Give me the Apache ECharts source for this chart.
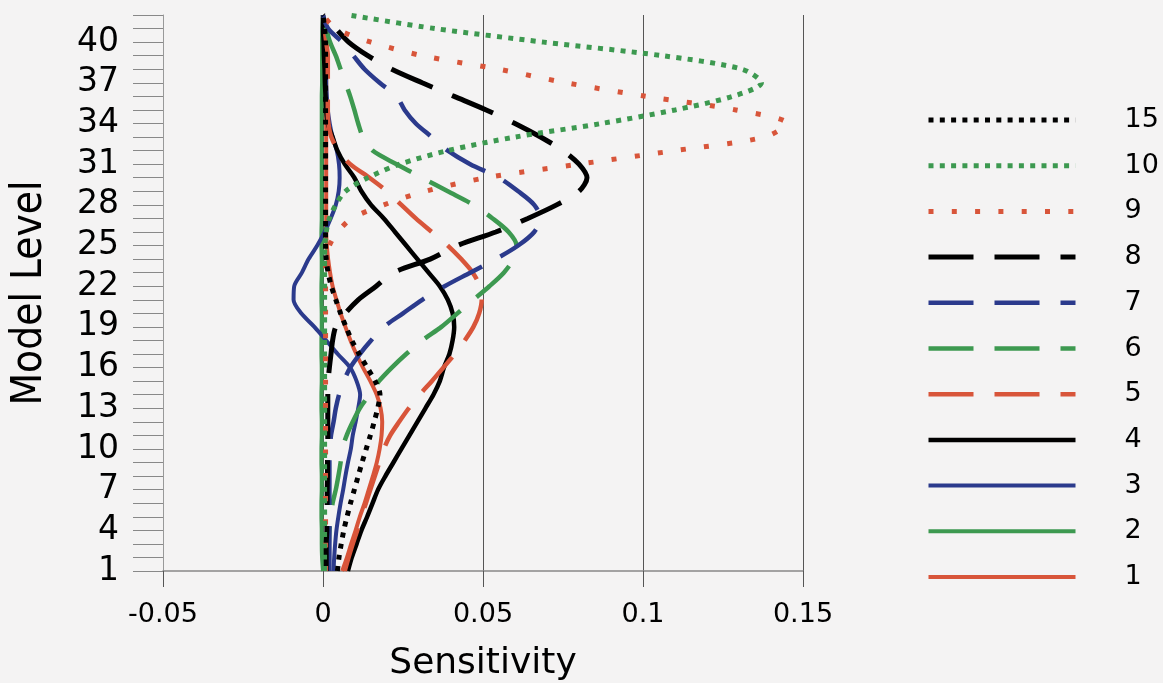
<!DOCTYPE html>
<html>
<head>
<meta charset="utf-8">
<script src="https://cdn.jsdelivr.net/npm/echarts@6/dist/echarts.min.js"></script>
<style>
html, body { margin: 0; padding: 0; background: #f4f3f3; }
#chart { width: 1163px; height: 683px; }
</style>
</head>
<body>
<div id="chart"></div>
<script>
// model levels (y) and sensitivity profiles (x), one value per level
const levels = [1, 2, 3, 4, 5, 6, 7, 8, 9, 10, 11, 12, 13, 14, 15, 16, 17, 18, 19, 20,
    21, 22, 23, 24, 25, 26, 27, 28, 29, 30, 31, 32, 33, 34, 35, 36, 37, 38, 39, 40, 41, 42];
const levelLabels = [1, 4, 7, 10, 13, 16, 19, 22, 25, 28, 31, 34, 37, 40];
const sensTicks = [-0.05, 0, 0.05, 0.1, 0.15];
const legendOrder = ['15', '10', '9', '8', '7', '6', '5', '4', '3', '2', '1'];

const s1 = [
    0.006, 0.0075, 0.0088, 0.0102, 0.0115, 0.013, 0.0143, 0.0156, 0.0168, 0.0177,
    0.0183, 0.0185, 0.018, 0.0168, 0.0148, 0.0125, 0.0104, 0.0086, 0.007, 0.0055,
    0.0042, 0.003, 0.0022, 0.0016, 0.0012, 0.001, 0.001, 0.001, 0.001, 0.001,
    0.001, 0.001, 0.001, 0.001, 0.001, 0.001, 0.001, 0.001, 0.001, 0.0008,
    0.0005, 0];
const s2 = [
    0, -0.0003, -0.0004, -0.0004, -0.0005, -0.0005, -0.0004, -0.0004, -0.0005, -0.0005,
    -0.0004, -0.0004, -0.0005, -0.0005, -0.0004, -0.0004, -0.0005, -0.0005, -0.0004, -0.0004,
    -0.0005, -0.0005, -0.0004, -0.0004, -0.0005, -0.0005, -0.0004, -0.0004, -0.0004, -0.0004,
    -0.0004, -0.0004, -0.0004, -0.0004, -0.0004, -0.0004, -0.0003, -0.0003, -0.0003, -0.0003,
    -0.0002, 0];
const s3 = [
    0.0033, 0.0035, 0.0038, 0.0042, 0.0048, 0.0055, 0.0063, 0.007, 0.0078, 0.0087,
    0.0093, 0.0102, 0.011, 0.0116, 0.0105, 0.0085, 0.0046, 0.001, -0.0027, -0.0068,
    -0.0092, -0.009, -0.0066, -0.0045, -0.0018, 0.0005, 0.0024, 0.004, 0.0049, 0.0052,
    0.005, 0.0043, 0.003, 0.0021, 0.0015, 0.0012, 0.001, 0.001, 0.001, 0.0008,
    0.0005, 0];
const s4 = [
    0.0078, 0.009, 0.0105, 0.012, 0.0138, 0.0155, 0.0172, 0.0195, 0.022, 0.0245,
    0.027, 0.0295, 0.032, 0.0345, 0.0365, 0.0378, 0.0395, 0.0405, 0.041, 0.0405,
    0.039, 0.0365, 0.033, 0.0295, 0.026, 0.0225, 0.019, 0.015, 0.012, 0.0098,
    0.0068, 0.0045, 0.003, 0.0015, 0.001, 0.0008, 0.0006, 0.0005, 0.0003, 0.0002,
    0, 0];
const s5 = [
    0.0068, 0.008, 0.0093, 0.0107, 0.012, 0.0134, 0.0148, 0.0162, 0.0176, 0.019,
    0.021, 0.0238, 0.0268, 0.0302, 0.034, 0.0376, 0.0412, 0.0443, 0.047, 0.0488,
    0.0496, 0.049, 0.0468, 0.0432, 0.039, 0.034, 0.029, 0.0245, 0.02, 0.0145,
    0.0085, 0.0048, 0.0026, 0.0017, 0.0015, 0.0015, 0.0015, 0.0015, 0.0015, 0.001,
    0.0005, 0];
const s6 = [
    0.0012, 0.0015, 0.0018, 0.002, 0.0025, 0.003, 0.004, 0.0048, 0.0055, 0.006,
    0.0074, 0.0093, 0.0115, 0.0145, 0.0175, 0.0215, 0.026, 0.031, 0.037, 0.042,
    0.047, 0.052, 0.0565, 0.0595, 0.0605, 0.058, 0.053, 0.047, 0.039, 0.031,
    0.023, 0.0155, 0.0125, 0.011, 0.0098, 0.0085, 0.007, 0.0055, 0.004, 0.0022,
    0.001, 0];
const s7 = [
    0.002, 0.002, 0.002, 0.002, 0.002, 0.002, 0.002, 0.002, 0.002, 0.0022,
    0.0025, 0.0033, 0.004, 0.005, 0.0065, 0.0085, 0.0115, 0.015, 0.019, 0.025,
    0.031, 0.038, 0.046, 0.054, 0.061, 0.066, 0.068, 0.066, 0.061, 0.055,
    0.046, 0.039, 0.034, 0.029, 0.0255, 0.023, 0.0177, 0.013, 0.0095, 0.006,
    0.0016, 0];
const s8 = [
    0.001, 0.001, 0.001, 0.0012, 0.0012, 0.0013, 0.0013, 0.0014, 0.0014, 0.0015,
    0.0015, 0.0015, 0.0015, 0.0015, 0.0016, 0.002, 0.0025, 0.003, 0.004, 0.007,
    0.011, 0.0166, 0.022, 0.0335, 0.042, 0.054, 0.064, 0.073, 0.08, 0.0825,
    0.08, 0.075, 0.068, 0.06, 0.051, 0.041, 0.031, 0.0215, 0.014, 0.008,
    0.004, 0];
const s9 = [
    0.0008, 0.0008, 0.0008, 0.0008, 0.0008, 0.0008, 0.0008, 0.0008, 0.0008, 0.0008,
    0.0008, 0.0008, 0.0008, 0.0008, 0.0008, 0.0008, 0.0008, 0.0008, 0.0008, 0.0008,
    0.0008, 0.0008, 0.0008, 0.001, 0.002, 0.0046, 0.009, 0.019, 0.032, 0.051,
    0.08, 0.11, 0.138, 0.145, 0.129, 0.101, 0.076, 0.055, 0.031, 0.015,
    0.004, 0];
const s10 = [
    0.0005, 0.0005, 0.0005, 0.0005, 0.0005, 0.0005, 0.0005, 0.0005, 0.0005, 0.0005,
    0.0005, 0.0005, 0.0005, 0.0005, 0.0005, 0.0005, 0.0005, 0.0005, 0.0005, 0.0005,
    0.0005, 0.0005, 0.0005, 0.0005, 0.0006, 0.001, 0.002, 0.004, 0.007, 0.014,
    0.024, 0.039, 0.06, 0.087, 0.11, 0.128, 0.137, 0.131, 0.106, 0.069,
    0.035, 0.008];
const s15 = [
    0.0045, 0.005, 0.0057, 0.0065, 0.0075, 0.0086, 0.0098, 0.011, 0.0122, 0.0135,
    0.0148, 0.016, 0.0171, 0.0178, 0.0163, 0.0138, 0.0113, 0.009, 0.0072, 0.0055,
    0.004, 0.0026, 0.0016, 0.001, 0.0008, 0.0008, 0.0008, 0.0008, 0.0008, 0.0008,
    0.0008, 0.0008, 0.0008, 0.0008, 0.0008, 0.0008, 0.0008, 0.0008, 0.0008, 0.0008,
    0.0005, 0];

const RED = '#d8553a';
const GREEN = '#3d9950';
const BLUE = '#2b3a8c';
const BLACK = '#000000';
const DASH = [45, 21];
const DOT = [5, 6.3];
const DOT_WIDE = [5, 18.3];

// drawn bottom-up so the dotted ones end up on top
const lines = [
    {name: '1', values: s1, color: RED, type: 'solid', width: 4},
    {name: '2', values: s2, color: GREEN, type: 'solid', width: 4},
    {name: '3', values: s3, color: BLUE, type: 'solid', width: 4},
    {name: '4', values: s4, color: BLACK, type: 'solid', width: 4.5},
    {name: '5', values: s5, color: RED, type: DASH, width: 4.5},
    {name: '6', values: s6, color: GREEN, type: DASH, width: 4.5},
    {name: '7', values: s7, color: BLUE, type: DASH, width: 4.5},
    {name: '8', values: s8, color: BLACK, type: DASH, width: 5},
    {name: '9', values: s9, color: RED, type: DOT_WIDE, width: 5},
    {name: '10', values: s10, color: GREEN, type: DOT, width: 5},
    {name: '15', values: s15, color: BLACK, type: DOT, width: 5}
];

const chart = echarts.init(document.getElementById('chart'), null, {renderer: 'canvas'});

chart.setOption({
    backgroundColor: '#f4f3f3',
    animation: false,
    grid: {left: 163, right: 360, top: 15, bottom: 112, outerBoundsMode: 'none'},
    legend: {
        orient: 'vertical',
        left: 921,
        top: 101,
        itemWidth: 147,
        itemHeight: 28,
        itemGap: 17.7,
        data: legendOrder,
        itemStyle: {opacity: 0},
        lineStyle: {width: 'inherit'},
        textStyle: {
            fontFamily: 'DejaVu Sans',
            fontSize: 27,
            lineHeight: 28,
            color: '#000',
            padding: [0, 0, 0, 44]
        }
    },
    xAxis: {
        type: 'value',
        min: sensTicks[0],
        max: sensTicks[sensTicks.length - 1],
        interval: 0.05,
        name: 'Sensitivity',
        nameLocation: 'middle',
        nameGap: 75,
        nameTextStyle: {fontFamily: 'DejaVu Sans', fontSize: 36, color: '#000'},
        axisLine: {show: true, onZero: false, lineStyle: {color: '#888', width: 1.5}},
        axisTick: {show: true, length: 16, lineStyle: {color: '#555'}},
        axisLabel: {
            margin: 30,
            fontFamily: 'DejaVu Sans',
            fontSize: 27,
            color: '#000',
            formatter: (v) => String(Math.round(v * 100) / 100)
        },
        splitLine: {show: true, showMinLine: false, lineStyle: {color: '#555', width: 1}}
    },
    yAxis: {
        type: 'value',
        min: levels[0],
        max: levels[levels.length - 1],
        interval: 1,
        name: 'Model Level',
        nameLocation: 'middle',
        nameGap: 112,
        nameTextStyle: {
            fontFamily: 'Liberation Sans Narrow, DejaVu Sans Condensed, sans-serif',
            fontSize: 42,
            color: '#000'
        },
        axisLine: {show: true, onZero: false, lineStyle: {color: '#999', width: 1}},
        axisTick: {show: true, length: 30, lineStyle: {color: '#888'}},
        axisLabel: {
            margin: 44,
            fontFamily: 'DejaVu Sans',
            fontSize: 33,
            fontWeight: 500,
            color: '#000',
            formatter: (v) => (levelLabels.includes(v) ? String(v) : '')
        },
        splitLine: {show: false}
    },
    series: lines.map((d) => ({
        name: d.name,
        type: 'line',
        data: levels.map((lv, i) => [d.values[i], lv]),
        symbol: 'none',
        smooth: 0.3,
        itemStyle: {color: d.color},
        lineStyle: {color: d.color, width: d.width, type: d.type, cap: 'butt'}
    }))
});
</script>
</body>
</html>
